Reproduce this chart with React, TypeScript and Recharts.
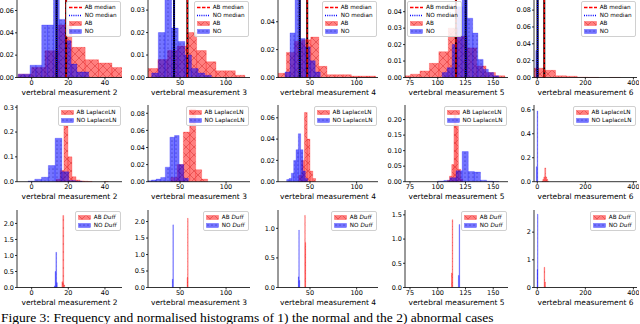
import React from 'react';
import { ComposedChart, XAxis, YAxis, ReferenceArea, ReferenceLine } from 'recharts';

// each bin: [left edge, right edge, density]
type Bin = [number, number, number];

const measures = ['2', '3', '4', '5', '6'];

// row 1: frequency histograms
const freqAB2: Bin[] = [[-7.3, 0, 0.003], [0, 7.3, 0.009], [7.3, 14.6, 0.024], [14.6, 21.9, 0.047], [21.9, 29.2, 0.027], [29.2, 36.5, 0.016], [36.5, 43.8, 0.013], [43.8, 51, 0.009]];
const freqNO2: Bin[] = [[-7.3, -4.1, 0.003], [-4.1, -0.9, 0.003], [-0.9, 2.3, 0.011], [2.3, 5.5, 0.011], [5.5, 8.7, 0.047], [8.7, 11.9, 0.047], [11.9, 15.1, 0.072], [15.1, 18.3, 0.052], [18.3, 21.5, 0.033], [21.5, 24.7, 0.012], [24.7, 27.9, 0.005], [27.9, 31.1, 0.005]];
const freqAB3: Bin[] = [[15.5, 26, 0.004], [26, 36.5, 0.008], [36.5, 47, 0.012], [47, 57.5, 0.014], [57.5, 68, 0.02], [68, 78.5, 0.012], [78.5, 89, 0.007], [89, 99.5, 0.003], [99.5, 110, 0.003], [110, 120.5, 0.001]];
const freqNO3: Bin[] = [[19.2, 26.4, 0.002], [26.4, 33.6, 0.02], [33.6, 40.8, 0.036], [40.8, 48, 0.022], [48, 55.2, 0.016], [55.2, 62.4, 0.01], [62.4, 69.6, 0.004], [69.6, 76.8, 0.002], [76.8, 84, 0.001]];
const freqAB4: Bin[] = [[16, 24.7, 0.003], [24.7, 33.4, 0.018], [33.4, 42.1, 0.026], [42.1, 50.8, 0.027], [50.8, 59.5, 0.029], [59.5, 68.2, 0.008], [68.2, 76.9, 0.002], [76.9, 85.6, 0.002], [85.6, 94.3, 0.002], [94.3, 103, 0.001], [103, 111.7, 0.001], [111.7, 120.4, 0.001]];
const freqNO4: Bin[] = [[23.2, 28.6, 0.004], [28.6, 34, 0.032], [34, 39.4, 0.058], [39.4, 44.8, 0.028], [44.8, 50.2, 0.022], [50.2, 55.6, 0.012], [55.6, 61, 0.004]];
const freqAB5: Bin[] = [[67, 75.5, 0.001], [75.5, 84, 0.002], [84, 92.5, 0.004], [92.5, 101, 0.0086], [101, 109.5, 0.0157], [109.5, 118, 0.03], [118, 126.5, 0.025], [126.5, 135, 0.018], [135, 143.5, 0.007], [143.5, 152, 0.003], [152, 160.5, 0.001]];
const freqNO5: Bin[] = [[104, 108.5, 0.003], [108.5, 113, 0.006], [113, 117.6, 0.02], [117.6, 122, 0.043], [122, 126.7, 0.049], [126.7, 131.5, 0.036], [131.5, 136.2, 0.027], [136.2, 140.9, 0.011], [140.9, 145.6, 0.005], [145.6, 150.3, 0.003], [150.3, 155, 0.001]];
const freqAB6: Bin[] = [[-14, 31, 0.011], [31, 76, 0.0085], [76, 121, 0.002], [121, 166, 0.0015], [166, 211, 0.0004], [211, 256, 0.0002], [301, 346, 0.0001]];
const freqNO6: Bin[] = [[-6, 0, 0.032], [0, 4, 0.11]];

const medianAB = [18.8, 58, 47, 116.4, 29];
const medianNO = [13.6, 43.5, 39, 125.2, 1];

// row 2: LaplaceLN normalised histograms
const lapAB2: Bin[] = [[13.3, 15.5, 0.01], [15.5, 17.6, 0.045], [17.6, 19.8, 0.225], [19.8, 22, 0.1], [22, 24.2, 0.02], [24.2, 26.4, 0.007], [26.4, 28.6, 0.003], [28.6, 30.8, 0.002], [30.8, 33, 0.001], [39.6, 41.8, 0.001]];
const lapNO2: Bin[] = [[-2, 1.7, 0.003], [1.7, 5.4, 0.01], [5.4, 9.1, 0.018], [9.1, 12.8, 0.065], [12.8, 16.5, 0.175], [16.5, 20.2, 0.04], [20.2, 23.9, 0.005], [23.9, 27.6, 0.002]];
const lapAB3: Bin[] = [[40, 47, 0.005], [47, 53.6, 0.02], [53.6, 60.5, 0.058], [60.5, 67, 0.085], [67, 73.5, 0.014], [73.5, 80, 0.003]];
const lapNO3: Bin[] = [[14, 19, 0.001], [19, 24, 0.002], [24, 29, 0.003], [29, 34, 0.005], [34, 39, 0.017], [39, 44, 0.052], [44, 49, 0.054], [49, 54, 0.02], [54, 59, 0.004]];
const lapAB4: Bin[] = [[38, 41, 0.006], [41, 44, 0.02], [44, 47, 0.065], [47, 50, 0.04], [50, 53, 0.01], [53, 56, 0.003]];
const lapNO4: Bin[] = [[25, 27.5, 0.002], [27.5, 30, 0.003], [30, 32.5, 0.008], [32.5, 35, 0.02], [35, 37.5, 0.03], [37.5, 40, 0.045], [40, 42.5, 0.03], [42.5, 45, 0.01], [45, 47.5, 0.003]];
const lapAB5: Bin[] = [[108.6, 110.6, 0.005], [110.6, 112.6, 0.018], [112.6, 114.6, 0.055], [114.6, 116.6, 0.215], [116.6, 118.6, 0.185], [118.6, 120.6, 0.04], [120.6, 122.6, 0.008]];
const lapNO5: Bin[] = [[100, 105.5, 0.002], [105.5, 111, 0.004], [111, 116.5, 0.013], [116.5, 122, 0.035], [122, 127.5, 0.097], [127.5, 133, 0.033], [133, 138.5, 0.031], [138.5, 144, 0.005], [144, 149.5, 0.002], [149.5, 155, 0.001]];
const lapAB6: Bin[] = [[19, 23, 0.005], [23, 27, 0.02], [27, 31, 0.04], [31, 35, 0.115], [35, 39, 0.04], [39, 43, 0.02], [43, 47, 0.005]];
const lapNO6: Bin[] = [[-4, -1, 0.125], [-1, 2, 0.59]];

// row 3: Duff normalised histograms
const duffAB2: Bin[] = [[16.5, 17, 0.18], [17, 17.5, 2.25], [17.5, 18, 0.08]];
const duffNO2: Bin[] = [[12.4, 12.8, 0.05], [12.8, 13.2, 0.5], [13.2, 13.6, 1.1], [13.6, 14, 0.15]];
const duffAB3: Bin[] = [[57.6, 58.2, 0.3], [58.2, 58.8, 2.1]];
const duffNO3: Bin[] = [[41.6, 42.2, 0.25], [42.2, 42.8, 1.9]];
const duffAB4: Bin[] = [[44.4, 44.9, 1.22], [44.9, 45.4, 0.76]];
const duffNO4: Bin[] = [[37.5, 38, 0.18], [38, 38.5, 0.97], [38.5, 39, 0.12]];
const duffAB5: Bin[] = [[112.4, 113, 0.3], [113, 113.6, 1.4]];
const duffNO5: Bin[] = [[118.6, 119.2, 0.25], [119.2, 119.8, 1.3]];
const duffAB6: Bin[] = [[28, 31, 0.73], [31, 34, 0.2]];
const duffNO6: Bin[] = [[-1, 1, 0.65], [1, 3, 2.65]];

const xTicks = [[0, 20, 40], [50, 100], [50, 100], [75, 100, 125, 150], [0, 200, 400]];
const xDomains = [[-8, 49.3], [15.2, 126], [15.7, 122.9], [70.5, 163.3], [-13.7, 415]];

const yTicksFreq = [[0, 0.02, 0.04, 0.06], [0, 0.01, 0.02, 0.03], [0, 0.02, 0.04], [0, 0.01, 0.02, 0.03, 0.04], [0, 0.02, 0.04, 0.06, 0.08]];
const yTopFreq = [0.0694, 0.0345, 0.0556, 0.0471, 0.092];
const yTicksLap = [[0, 0.1, 0.2, 0.3], [0, 0.02, 0.04, 0.06, 0.08], [0, 0.02, 0.04, 0.06], [0, 0.05, 0.1, 0.15, 0.2], [0, 0.2, 0.4, 0.6]];
const yTopLap = [0.309, 0.0897, 0.072, 0.247, 0.64];
const yTicksDuff = [[0, 0.5, 1, 1.5, 2], [0, 0.5, 1, 1.5, 2], [0, 0.5, 1], [0, 0.5, 1, 1.5], [0, 1, 2]];
const yTopDuff = [2.42, 2.35, 1.31, 1.6, 2.8];

const freqAB = [freqAB2, freqAB3, freqAB4, freqAB5, freqAB6];
const freqNO = [freqNO2, freqNO3, freqNO4, freqNO5, freqNO6];
const lapAB = [lapAB2, lapAB3, lapAB4, lapAB5, lapAB6];
const lapNO = [lapNO2, lapNO3, lapNO4, lapNO5, lapNO6];
const duffAB = [duffAB2, duffAB3, duffAB4, duffAB5, duffAB6];
const duffNO = [duffNO2, duffNO3, duffNO4, duffNO5, duffNO6];

const COL_X = [[17, 122], [148, 250], [278, 378], [405, 508], [534, 637]];
const ROW_Y = [[0, 77.5], [105, 181.7], [210, 287.5]];
const YW = 22;
const MT = 2;
const MR = 2;
const XH = 18;
const FONT = 'DejaVu Sans, sans-serif';

const yDecimals = [
  [2, 2, 2, 2, 2],
  [1, 2, 2, 2, 1],
  [1, 1, 1, 1, 0],
];

type LegendItem = { label: React.ReactNode; kind: 'redDash' | 'blueDot' | 'red' | 'blue' };

function Handle({ kind, id }: { kind: LegendItem['kind']; id: string }) {
  return (
    <svg width={13} height={5} style={{ flex: 'none' }}>
      {kind === 'redDash' && <line x1={0} y1={2.5} x2={13} y2={2.5} stroke="#ff0000" strokeWidth={1.4} strokeDasharray="3.5 1.5" />}
      {kind === 'blueDot' && <line x1={0} y1={2.5} x2={13} y2={2.5} stroke="#0000ff" strokeWidth={1.4} strokeDasharray="1 1.2" />}
      {kind === 'red' && <rect x={0.5} y={0.5} width={12} height={4} fill={`url(#red-${id})`} stroke="#ff0000" strokeOpacity={0.5} strokeWidth={0.5} />}
      {kind === 'blue' && <rect x={0.5} y={0.5} width={12} height={4} fill={`url(#blue-${id})`} stroke="#0000ff" strokeOpacity={0.5} strokeWidth={0.5} />}
    </svg>
  );
}

function Patterns({ id }: { id: string }) {
  return (
    <defs>
      <pattern id={`red-${id}`} width={8} height={8} patternUnits="userSpaceOnUse">
        <rect width={8} height={8} fill="#ff0000" fillOpacity={0.5} />
        <path d="M0,0 L8,8 M8,0 L0,8" stroke="#c00000" strokeOpacity={0.55} strokeWidth={0.6} />
      </pattern>
      <pattern id={`blue-${id}`} width={4} height={4} patternUnits="userSpaceOnUse">
        <rect width={4} height={4} fill="#0000ff" fillOpacity={0.55} />
        <circle cx={2} cy={2} r={0.55} fill="#000080" fillOpacity={0.7} />
      </pattern>
    </defs>
  );
}

type PanelProps = {
  row: number;
  col: number;
  ab: Bin[];
  no: Bin[];
  yTicks: number[];
  yTop: number;
  legend: LegendItem[];
  legendLeft?: boolean;
};

function Panel({ row, col, ab, no, yTicks, yTop, legend, legendLeft }: PanelProps) {
  const [l, r] = COL_X[col];
  const [t, b] = ROW_Y[row];
  const w = r - l + YW + MR;
  const h = b - t + MT + XH;
  const id = `${row}-${col}`;
  const dec = yDecimals[row][col];
  const tick = { fontSize: 6.5, fill: '#000', fontFamily: FONT };
  return (
    <div style={{ position: 'absolute', left: l - YW, top: t - MT, width: w, height: h }}>
      <ComposedChart width={w} height={h} margin={{ top: MT, right: MR, left: 0, bottom: 0 }}>
        <Patterns id={id} />
        <XAxis
          type="number"
          dataKey="x"
          domain={xDomains[col]}
          ticks={xTicks[col]}
          allowDataOverflow
          interval={0}
          height={XH}
          tickSize={2}
          tickMargin={0.5}
          stroke="#000"
          strokeWidth={0.8}
          tick={tick}
          label={{ value: `vertebral measurement ${measures[col]}`, position: 'insideBottom', offset: 1, fontSize: 7.5, fill: '#000', fontFamily: FONT }}
        />
        <YAxis
          type="number"
          domain={[0, yTop]}
          ticks={yTicks}
          allowDataOverflow
          interval={0}
          width={YW}
          tickSize={2}
          tickMargin={1}
          stroke="#000"
          strokeWidth={0.8}
          tick={tick}
          tickFormatter={(v: number) => v.toFixed(dec)}
        />
        <XAxis xAxisId="top" orientation="top" type="number" domain={xDomains[col]} allowDataOverflow height={0} tick={false} tickLine={false} stroke="#000" strokeWidth={0.8} />
        <YAxis yAxisId="right" orientation="right" type="number" domain={[0, yTop]} allowDataOverflow width={0} tick={false} tickLine={false} stroke="#000" strokeWidth={0.8} />
        {ab.map(([x1, x2, y], i) => (
          <ReferenceArea key={`a${i}`} x1={x1} x2={x2} y1={0} y2={y} ifOverflow="hidden" fill={`url(#red-${id})`} fillOpacity={1} stroke="#ff0000" strokeOpacity={0.45} strokeWidth={0.5} />
        ))}
        {no.map(([x1, x2, y], i) => (
          <ReferenceArea key={`n${i}`} x1={x1} x2={x2} y1={0} y2={y} ifOverflow="hidden" fill={`url(#blue-${id})`} fillOpacity={1} stroke="#0000ff" strokeOpacity={0.45} strokeWidth={0.5} />
        ))}
        {row === 0 && <ReferenceLine x={medianAB[col]} stroke="#000" strokeWidth={2} ifOverflow="hidden" />}
        {row === 0 && <ReferenceLine x={medianAB[col]} stroke="#ff0000" strokeWidth={1.3} strokeDasharray="3.5 1.5" ifOverflow="hidden" />}
        {row === 0 && <ReferenceLine x={medianNO[col]} stroke="#000" strokeWidth={2} ifOverflow="hidden" />}
        {row === 0 && <ReferenceLine x={medianNO[col]} stroke="#0000ff" strokeWidth={1.3} strokeDasharray="1 1.2" ifOverflow="hidden" />}
      </ComposedChart>
      <div
        style={{
          position: 'absolute',
          top: MT + 1,
          ...(legendLeft ? { left: YW + 2 } : { right: MR + 1.5 }),
          background: 'rgba(255,255,255,0.85)',
          border: '0.5px solid #d0d0d0',
          borderRadius: 2,
          padding: '1px 3px 1px 2px',
          fontSize: 5.7,
          lineHeight: '8px',
          fontFamily: FONT,
          color: '#000',
          whiteSpace: 'nowrap',
        }}
      >
        {legend.map((it, i) => (
          <div key={i} style={{ display: 'flex', alignItems: 'center' }}>
            <Handle kind={it.kind} id={id} />
            <span style={{ marginLeft: 3 }}>{it.label}</span>
          </div>
        ))}
      </div>
    </div>
  );
}

const legendFreq: LegendItem[] = [
  { label: 'AB median', kind: 'redDash' },
  { label: 'NO median', kind: 'blueDot' },
  { label: 'AB', kind: 'red' },
  { label: 'NO', kind: 'blue' },
];
const legendLap: LegendItem[] = [
  { label: 'AB LaplaceLN', kind: 'red' },
  { label: 'NO LaplaceLN', kind: 'blue' },
];
const legendDuff: LegendItem[] = [
  { label: <>AB <i>Duff</i></>, kind: 'red' },
  { label: <>NO <i>Duff</i></>, kind: 'blue' },
];

export default function App() {
  return (
    <div style={{ position: 'absolute', left: 0, top: 0, width: 640, height: 324, background: '#fff', overflow: 'hidden' }}>
      {measures.map((_, c) => (
        <React.Fragment key={c}>
          <Panel row={0} col={c} ab={freqAB[c]} no={freqNO[c]} yTicks={yTicksFreq[c]} yTop={yTopFreq[c]} legend={legendFreq} legendLeft={c === 3} />
          <Panel row={1} col={c} ab={lapAB[c]} no={lapNO[c]} yTicks={yTicksLap[c]} yTop={yTopLap[c]} legend={legendLap} />
          <Panel row={2} col={c} ab={duffAB[c]} no={duffNO[c]} yTicks={yTicksDuff[c]} yTop={yTopDuff[c]} legend={legendDuff} />
        </React.Fragment>
      ))}
      <div style={{ position: 'absolute', left: 1, top: 310, fontFamily: 'Liberation Serif, serif', fontSize: 13.5, whiteSpace: 'nowrap', color: '#000' }}>
        Figure 3: Frequency and normalised histograms of 1) the normal and the 2) abnormal cases
      </div>
    </div>
  );
}
